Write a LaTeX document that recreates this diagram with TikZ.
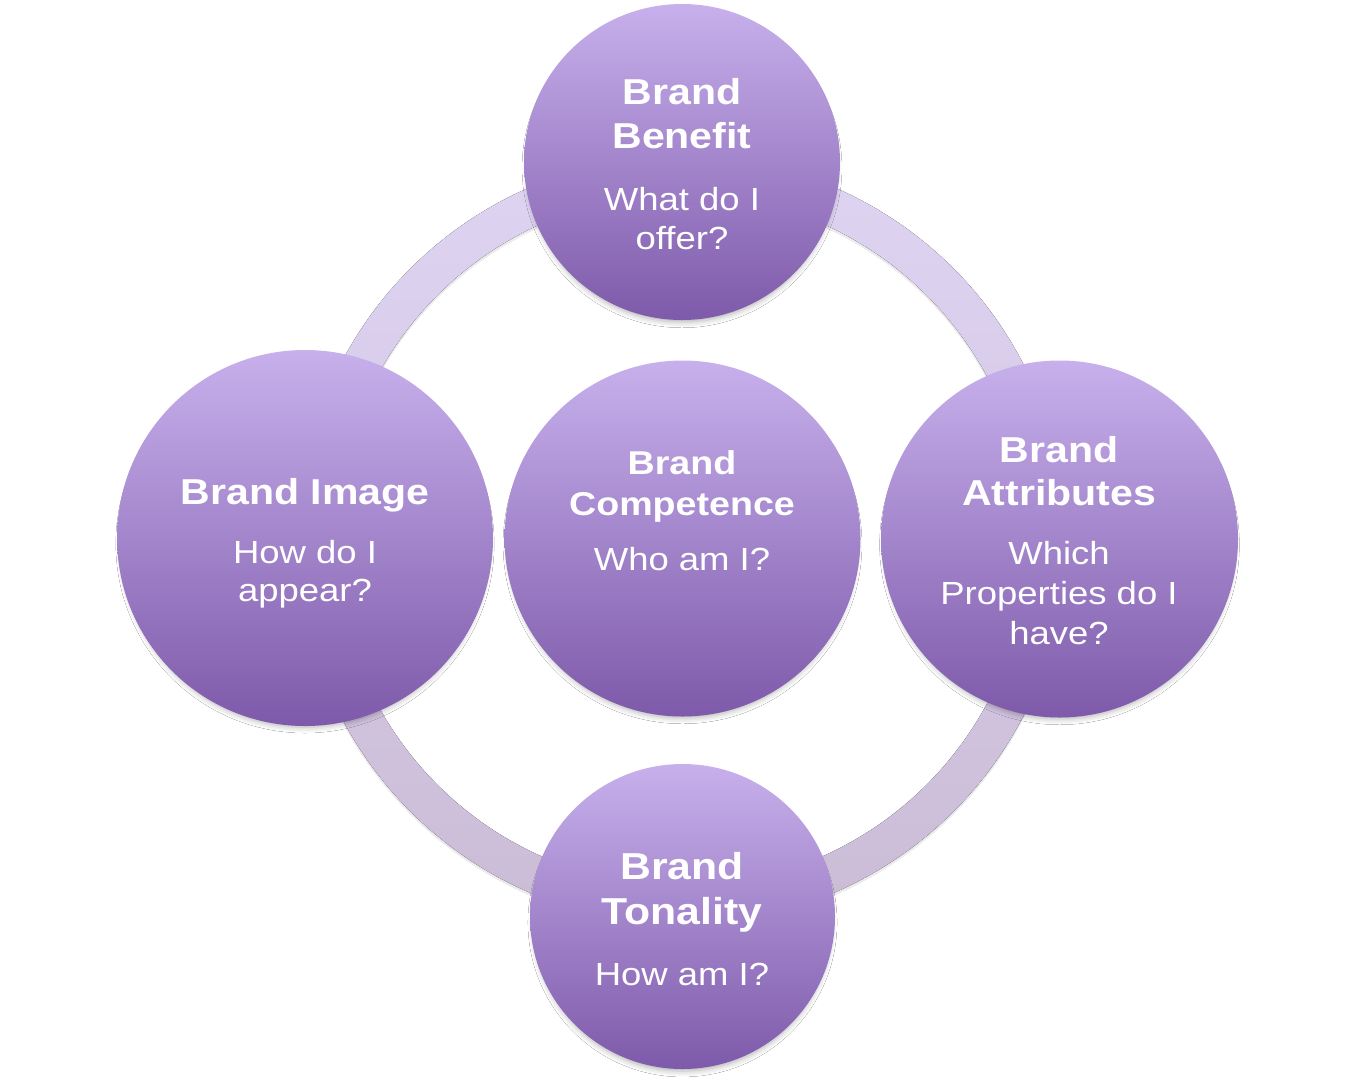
\documentclass[tikz,border=0pt]{standalone}
\usepackage{fontspec}
\newfontfamily\lsans[FakeStretch=1.14]{Liberation Sans}
\usetikzlibrary{shadows.blur}
\definecolor{ctop}{HTML}{C7B0EC}
\definecolor{cbot}{HTML}{7E5AAA}
\definecolor{rtop}{HTML}{DED4F2}
\definecolor{rbot}{HTML}{CBBCD6}
\tikzset{
  bubble/.style={circle, inner sep=0pt, top color=ctop, bottom color=cbot, draw=none,
    blur shadow={shadow xshift=0pt, shadow yshift=-6pt, shadow scale=0.975, shadow blur radius=6pt, shadow opacity=32}},
  ttl/.style={anchor=base, text=white, inner sep=0pt, font=\lsans\bfseries\fontsize{36}{40}\selectfont},
  qst/.style={anchor=base, text=white, inner sep=0pt, font=\lsans\fontsize{32}{38}\selectfont}
}
\begin{document}
\begin{tikzpicture}[x=1pt,y=-1pt]
\useasboundingbox[fill=white] (0,0) rectangle (1355,1080);
% ring
\coordinate (rc) at (682,540);
\fill[black, opacity=0.08, even odd rule] ([yshift=-3pt]rc) circle[radius=384pt] circle[radius=346pt];
\fill[top color=rtop, bottom color=rbot, even odd rule] (rc) circle[radius=384pt] circle[radius=346pt];
% circles
\node[bubble, minimum size=316pt] (top) at (682,162) {};
\node[bubble, minimum size=376pt] (left) at (305,538) {};
\node[bubble, minimum size=356pt] (mid) at (682.5,538.5) {};
\node[bubble, minimum size=357pt] (right) at (1059.5,539) {};
\node[bubble, minimum size=305pt] (bot) at (682.5,916.5) {};
% texts: top
\node[ttl] (t1) at (682,104) {Brand};
\node[ttl] (t2) at (682,148) {Benefit};
\node[qst] (t3) at (682,210) {What do I};
\node[qst] (t4) at (682,249) {offer?};
% left
\node[ttl] (l1) at (305,504) {Brand Image};
\node[qst] (l2) at (305,563) {How do I};
\node[qst] (l3) at (305,601) {appear?};
% middle
\node[ttl, font=\lsans\bfseries\fontsize{33}{38}\selectfont] (m1) at (682,474) {Brand};
\node[ttl, font=\lsans\bfseries\fontsize{33}{38}\selectfont] (m2) at (682,515) {Competence};
\node[qst] (m3) at (682,570) {Who am I?};
% right
\node[ttl] (r1) at (1059,462) {Brand};
\node[ttl] (r2) at (1059,505) {Attributes};
\node[qst] (r3) at (1059,564) {Which};
\node[qst] (r4) at (1059,604) {Properties do I};
\node[qst] (r5) at (1059,644) {have?};
% bottom
\node[ttl, font=\lsans\bfseries\fontsize{37.5}{42}\selectfont] (b1) at (682,879) {Brand};
\node[ttl, font=\lsans\bfseries\fontsize{37.5}{42}\selectfont] (b2) at (682,924) {Tonality};
\node[qst] (b3) at (682,985) {How am I?};
\end{tikzpicture}
\end{document}
